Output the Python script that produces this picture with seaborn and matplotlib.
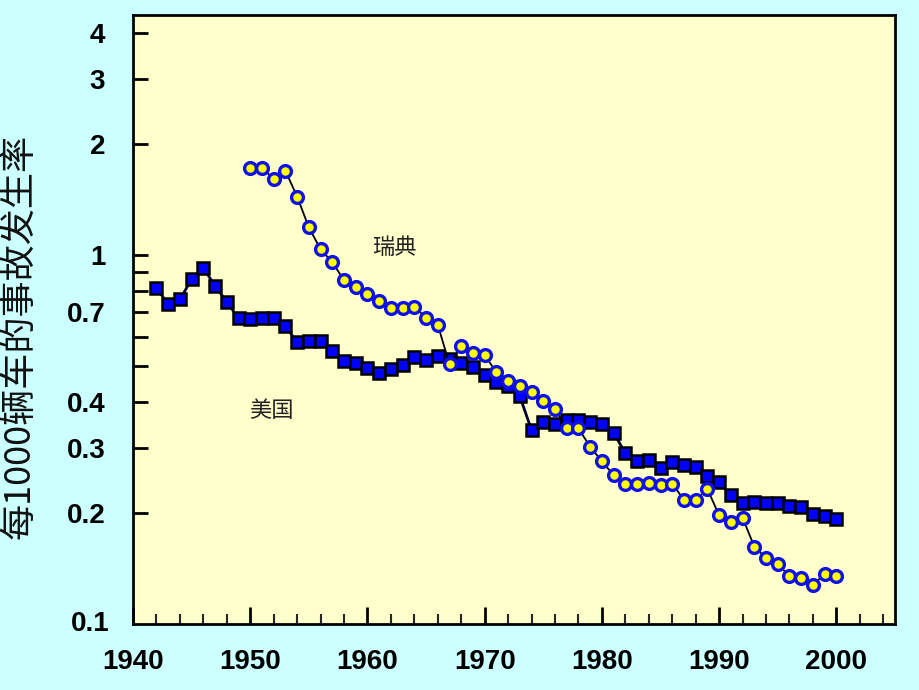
import numpy as np
import pandas as pd
import matplotlib
matplotlib.use("Agg")
import matplotlib.pyplot as plt
import seaborn as sns
from matplotlib.ticker import FixedLocator, NullLocator, MultipleLocator

# ---- data ----
us_years = list(range(1942, 2001))
us_rate = [0.815, 0.735, 0.758, 0.859, 0.923, 0.824, 0.747, 0.673, 0.670, 0.676,
           0.673, 0.642, 0.580, 0.586, 0.584, 0.548, 0.517, 0.509, 0.493, 0.478,
           0.492, 0.503, 0.529, 0.520, 0.531, 0.523, 0.511, 0.496, 0.472, 0.452,
           0.442, 0.414, 0.335, 0.353, 0.349, 0.357, 0.358, 0.353, 0.348, 0.330,
           0.290, 0.277, 0.279, 0.264, 0.274, 0.269, 0.266, 0.252, 0.242, 0.223,
           0.213, 0.214, 0.213, 0.213, 0.209, 0.207, 0.199, 0.196, 0.192]

se_years = list(range(1950, 2001))
se_rate = [1.718, 1.725, 1.604, 1.692, 1.439, 1.188, 1.036, 0.956, 0.854, 0.821,
           0.783, 0.750, 0.717, 0.717, 0.723, 0.676, 0.646, 0.506, 0.567, 0.542,
           0.535, 0.481, 0.456, 0.441, 0.425, 0.401, 0.382, 0.339, 0.339, 0.302,
           0.276, 0.253, 0.240, 0.240, 0.241, 0.238, 0.240, 0.217, 0.217, 0.232,
           0.197, 0.189, 0.194, 0.162, 0.151, 0.145, 0.135, 0.1335, 0.1276, 0.1367,
           0.1347]

y_ticks = [0.2, 0.3, 0.4, 0.5, 0.6, 0.7, 0.8, 0.9, 1, 2, 3, 4]
y_labels = {0.2: "0.2", 0.3: "0.3", 0.4: "0.4", 0.7: "0.7", 1: "1", 2: "2", 3: "3", 4: "4"}
x_ticks = [1940, 1950, 1960, 1970, 1980, 1990, 2000]
ylabel_text = "每1000辆车的事故发生率"
label_se = "瑞典"
label_us = "美国"

us_df = pd.DataFrame({"year": us_years, "rate": us_rate})
se_df = pd.DataFrame({"year": se_years, "rate": se_rate})

sns.set_theme(style="ticks")
plt.rcParams["font.family"] = ["Liberation Sans", "DejaVu Sans"]

fig = plt.figure(figsize=(9.2, 6.9), dpi=100, facecolor="#CCFFFF")
ax = fig.add_axes([133 / 920, 1 - 624 / 690, (895 - 133) / 920, (624 - 15) / 690])
ax.set_facecolor("#FFFFCC")

sns.lineplot(data=us_df, x="year", y="rate", ax=ax, color="#000033", linewidth=2.0,
             marker="s", markersize=8, markerfacecolor="#0000FF",
             markeredgecolor="black", markeredgewidth=1.8, zorder=3)
sns.lineplot(data=se_df, x="year", y="rate", ax=ax, color="black", linewidth=1.3,
             marker="o", markersize=8.5, markerfacecolor="#FFFF00",
             markeredgecolor="#1010E8", markeredgewidth=2.4, zorder=4)
for ln in ax.lines[-1:]:
    ln.set_markersize(8.5)
    ln.set_markeredgewidth(2.4)

ax.set_yscale("log")
ax.set_ylim(0.1, 4.47)
ax.set_xlim(1940, 2005)

ax.yaxis.set_major_locator(FixedLocator(y_ticks))
ax.yaxis.set_minor_locator(NullLocator())
ax.set_yticklabels([y_labels.get(t, "") for t in y_ticks])
ax.xaxis.set_major_locator(FixedLocator(x_ticks))
ax.xaxis.set_minor_locator(MultipleLocator(2))
ax.set_xticklabels([str(t) for t in x_ticks])

ax.tick_params(axis="y", which="major", direction="in", length=11, width=2,
               labelsize=20, pad=20, colors="black")
ax.tick_params(axis="x", which="major", direction="in", length=12, width=2,
               labelsize=20, pad=18, colors="black")
ax.tick_params(axis="x", which="minor", direction="in", length=7, width=1.5)
for lab in ax.get_xticklabels() + ax.get_yticklabels():
    lab.set_fontweight("bold")

# bottom label 0.1 (axis edge)
ax.text(-0.031, 0.1, "0.1", transform=ax.get_yaxis_transform(), ha="right", va="center",
        fontsize=20, fontweight="bold", color="black")

for s in ax.spines.values():
    s.set_color("black")
    s.set_linewidth(2)

ax.set_xlabel("")
ax.set_ylabel("")

fig.text(20 / 920, 1 - 336 / 690, ylabel_text, rotation=90, ha="center", va="center",
         fontsize=26, family=["Noto Sans CJK SC", "DejaVu Sans"], color="#111111")

ax.text(1962.3, 1.05, label_se, fontsize=16, ha="center", va="center",
        family=["Noto Sans CJK SC", "DejaVu Sans"], color="#222222")
ax.text(1951.8, 0.38, label_us, fontsize=16, ha="center", va="center",
        family=["Noto Sans CJK SC", "DejaVu Sans"], color="#222222")

fig.savefig("out.png", dpi=100, facecolor=fig.get_facecolor())
